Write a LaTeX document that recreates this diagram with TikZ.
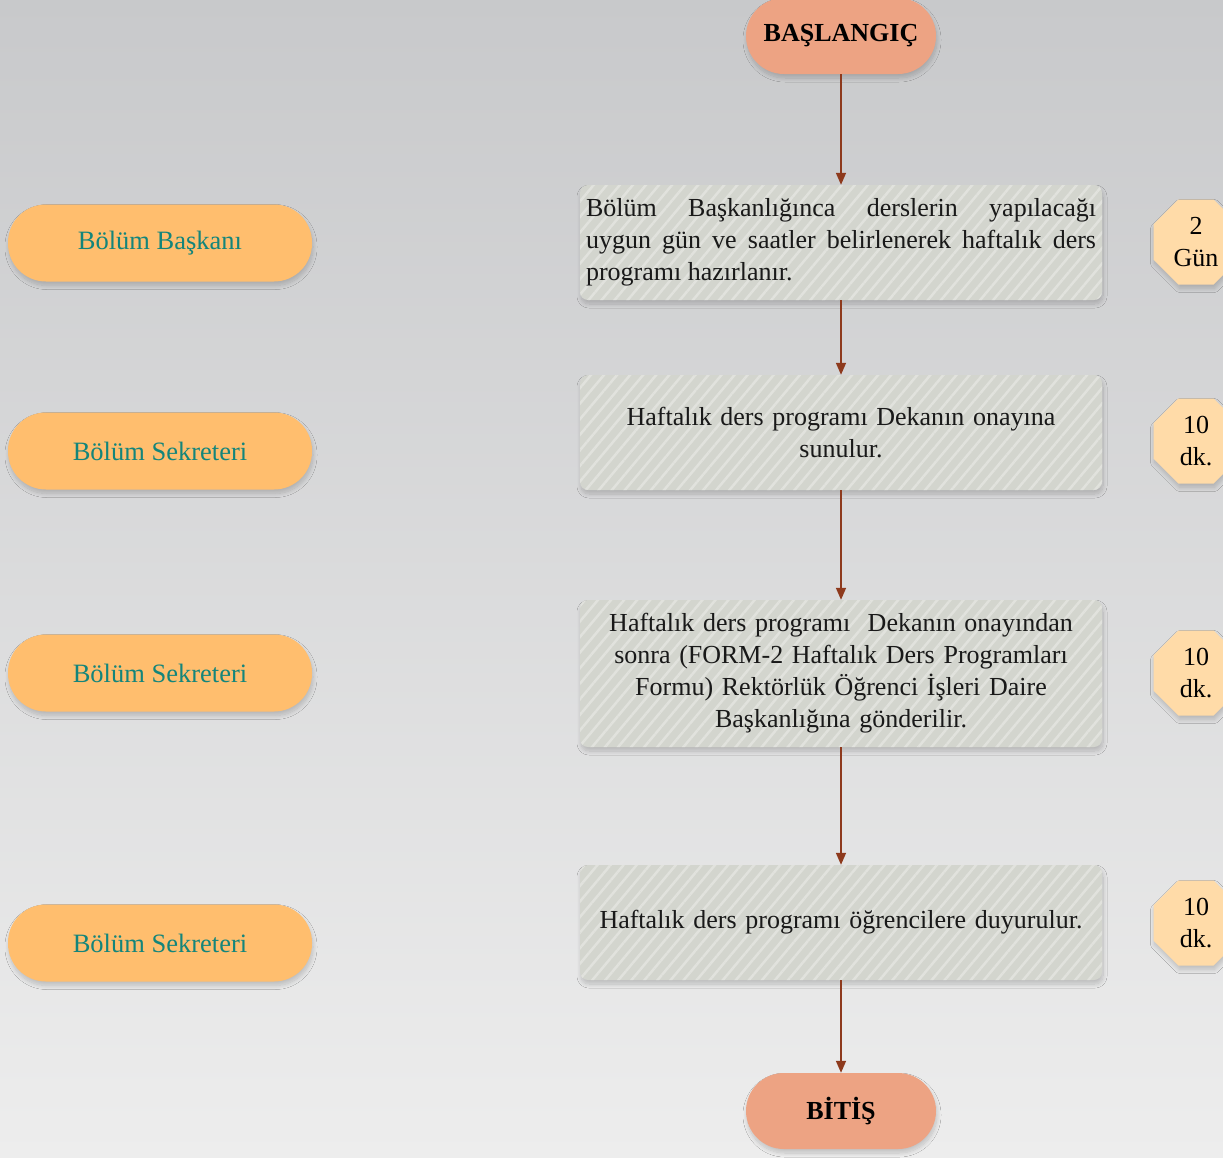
\documentclass[tikz,border=0pt]{standalone}
\usepackage{fontspec}
\setmainfont{Liberation Serif}
\usetikzlibrary{shapes.geometric,shadows.blur,patterns.meta,arrows.meta}
\definecolor{bgtop}{HTML}{C8C9CB}
\definecolor{bgbot}{HTML}{EDEDED}
\definecolor{termfill}{HTML}{EDA383}
\definecolor{rolefill}{HTML}{FFBE6E}
\definecolor{roletext}{HTML}{13857B}
\definecolor{procfill}{HTML}{D3D5CE}
\definecolor{stripe}{HTML}{E1E2DD}
\definecolor{timefill}{HTML}{FFDBA8}
\definecolor{arrowc}{HTML}{8E3A1D}
\tikzset{
  softshadow/.style={blur shadow={shadow xshift=1pt,shadow yshift=-4pt,shadow blur radius=4pt,shadow blur steps=10,shadow opacity=18}},
  term/.style={rectangle,rounded corners=38pt,fill=termfill,minimum width=190pt,minimum height=76pt,
    font=\fontsize{26}{30}\selectfont\bfseries,text=black,softshadow},
  role/.style={rectangle,rounded corners=38pt,fill=rolefill,minimum width=304pt,minimum height=77pt,
    font=\fontsize{26.5}{30}\selectfont,text=roletext,softshadow},
  proc/.style={rectangle,rounded corners=8pt,fill=procfill,minimum width=522pt,
    font=\fontsize{26}{32}\selectfont,text=black!90,softshadow,
    postaction={pattern={Lines[angle=50,distance=10pt,line width=2.5pt]},pattern color=stripe}},
  timebox/.style={regular polygon,regular polygon sides=8,minimum size=92pt,fill=timefill,inner sep=0pt,
    font=\fontsize{26}{32}\selectfont,text=black,align=center,softshadow},
  arr/.style={draw=arrowc,line width=1.6pt,-{Triangle[length=12pt,width=10pt]}}
}
\begin{document}
\begin{tikzpicture}[x=1pt,y=-1pt]
\useasboundingbox (0,0) rectangle (1223,1157);
\clip (0,0) rectangle (1223,1157);
\shade[top color=bgtop,bottom color=bgbot] (0,0) rectangle (1223,1157);

\node[term] (start) at (841,36) {BAŞLANGIÇ};
\node[term] (end) at (841,1111) {BİTİŞ};

\node[proc,minimum height=115pt,text width=510pt,align=justify] (p1) at (841,242.5)
  {Bölüm Başkanlığınca derslerin yapılacağı\linebreak uygun gün ve saatler belirlenerek haftalık ders\linebreak programı hazırlanır.};
\node[proc,minimum height=115pt,text width=510pt,align=center] (p2) at (841,432.5)
  {Haftalık ders programı Dekanın onayına\\sunulur.};
\node[proc,minimum height=147pt,text width=510pt,align=center] (p3) at (841,673.5)
  {Haftalık ders programı\ \ Dekanın onayından\\sonra (FORM-2 Haftalık Ders Programları\\Formu) Rektörlük Öğrenci İşleri Daire\\Başkanlığına gönderilir.};
\node[proc,minimum height=115pt,text width=510pt,align=center] (p4) at (841,922.5)
  {Haftalık ders programı öğrencilere duyurulur.};

\node[role] (r1) at (160,243) {Bölüm Başkanı};
\node[role] (r2) at (160,451) {Bölüm Sekreteri};
\node[role] (r3) at (160,673) {Bölüm Sekreteri};
\node[role] (r4) at (160,943) {Bölüm Sekreteri};

\node[timebox] (t1) at (1196,242) {2\\Gün};
\node[timebox] (t2) at (1196,441) {10\\dk.};
\node[timebox] (t3) at (1196,673) {10\\dk.};
\node[timebox] (t4) at (1196,923) {10\\dk.};

\draw[arr] (start) -- (p1);
\draw[arr] (p1) -- (p2);
\draw[arr] (p2) -- (p3);
\draw[arr] (p3) -- (p4);
\draw[arr] (p4) -- (end);
\end{tikzpicture}
\end{document}
